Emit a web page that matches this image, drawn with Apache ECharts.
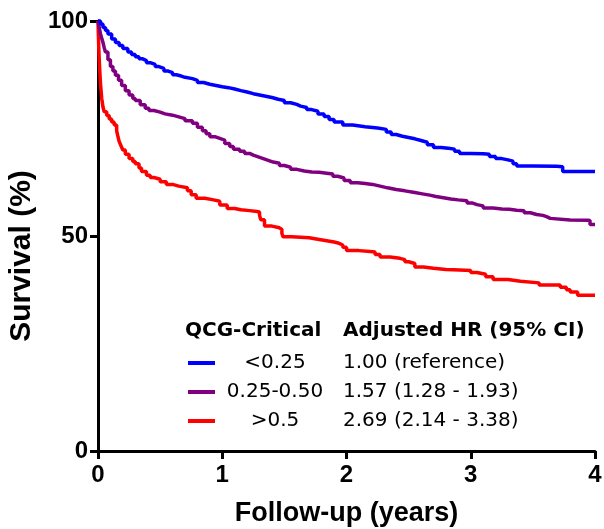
<!DOCTYPE html>
<html lang="en">
<head>
<meta charset="utf-8">
<title>Survival by QCG-Critical</title>
<script src="https://cdn.jsdelivr.net/npm/echarts@6/dist/echarts.min.js"></script>
<style>
  html, body { margin: 0; padding: 0; background: #fff; }
  #chart { width: 604px; height: 529px; }
</style>
</head>
<body>
<div id="chart"></div>
<script>
// Kaplan-Meier curves, [years, survival %]
var groupNames = ['<0.25', '0.25-0.50', '>0.5'];
var hrTexts = ['1.00 (reference)', '1.57 (1.28 - 1.93)', '2.69 (2.14 - 3.38)'];
var colors = ['#0000ff', '#800080', '#ff0000'];

var lowData = [
  [0,100],[0.02,99.3],[0.04,98.5],[0.06,97.8],[0.08,97],[0.11,95.8],[0.14,95],[0.17,94.3],
  [0.2,93.6],[0.24,92.8],[0.27,92.2],[0.3,91.7],[0.33,91.2],[0.36,90.8],[0.39,90.3],[0.42,89.9],
  [0.46,89.4],[0.49,89],[0.53,88.4],[0.56,88],[0.6,87.5],[0.63,87.2],[0.67,86.9],[0.7,86.6],
  [0.76,86.2],[0.8,85.7],[0.85,85.3],[0.9,85],[0.95,84.7],[1.0,84.5],[1.05,84.2],[1.1,83.8],
  [1.15,83.5],[1.2,83.1],[1.25,82.8],[1.3,82.5],[1.35,82.2],[1.4,81.8],[1.45,81.5],[1.5,81],
  [1.55,80.6],[1.6,80.2],[1.63,79.9],[1.68,79.4],[1.72,79.0],[1.77,78.4],[1.82,77.8],[1.86,77.1],
  [1.9,76.5],[1.97,75.8],[2.05,75.4],[2.15,75.1],[2.25,74.8],[2.32,74.2],[2.36,73.6],[2.4,73.2],
  [2.45,72.9],[2.5,72.6],[2.55,72.2],[2.6,71.8],[2.65,71.2],[2.7,70.6],[2.76,70.4],[2.82,70.2],
  [2.87,69.7],[2.91,69.2],[3.0,69.1],[3.1,69.0],[3.15,68.5],[3.2,68.0],[3.25,67.7],[3.3,67.4],
  [3.34,66.8],[3.37,66.3],[3.5,66.2],[3.69,66.1],[3.74,65.0],[4.0,65.0]
];
var midData = [
  [0,100],[0.01,98.5],[0.02,97],[0.03,96],[0.04,95],[0.05,93.8],[0.06,92.8],[0.08,91],
  [0.1,89.4],[0.12,88.4],[0.14,87.4],[0.165,86.2],[0.19,85],[0.22,83.8],[0.25,82.8],[0.28,82],
  [0.3,81.5],[0.34,80.5],[0.38,79.7],[0.41,79.2],[0.45,78.8],[0.5,78.4],[0.54,78.1],[0.6,77.7],
  [0.65,77.3],[0.7,76.8],[0.76,76.2],[0.8,75.3],[0.84,74.5],[0.87,73.8],[0.9,73.1],[0.94,72.7],
  [0.98,72.3],[1.02,71.5],[1.06,70.8],[1.09,70.2],[1.14,69.7],[1.18,69.2],[1.22,68.8],[1.25,68.4],
  [1.29,68],[1.33,67.6],[1.37,67.2],[1.41,66.9],[1.46,66.4],[1.5,66.0],[1.55,65.5],[1.6,65.1],
  [1.66,64.9],[1.72,64.8],[1.78,64.6],[1.84,64.4],[1.89,63.9],[1.93,63.5],[1.98,62.9],[2.03,62.4],
  [2.09,62.2],[2.15,62.0],[2.21,61.6],[2.27,61.2],[2.33,60.8],[2.4,60.5],[2.47,60.1],[2.55,59.8],
  [2.61,59.5],[2.67,59.2],[2.72,58.9],[2.78,58.6],[2.84,58.4],[2.9,58.2],[2.97,57.7],[3.01,57.3],
  [3.05,57.0],[3.1,56.5],[3.18,56.3],[3.25,56.2],[3.31,56.0],[3.37,55.9],[3.43,55.4],[3.48,55.0],
  [3.53,54.8],[3.58,54.5],[3.61,54.1],[3.64,53.7],[3.8,53.65],[3.94,53.6],[3.96,52.7],[4.0,52.7]
];
var highData = [
  [0,100],[0.003,97],[0.006,94],[0.01,91],[0.015,88],[0.02,85.5],[0.03,82],[0.04,80],
  [0.05,78.9],[0.07,78],[0.09,77.2],[0.11,76.5],[0.13,75.8],[0.15,74.5],[0.16,73.2],[0.17,72],
  [0.185,71],[0.2,70],[0.22,69],[0.25,68],[0.28,67.3],[0.3,66.8],[0.33,65.8],[0.35,65],
  [0.39,64.1],[0.42,63.6],[0.45,63.2],[0.5,62.6],[0.55,62.0],[0.6,61.6],[0.65,61.2],[0.72,60.5],
  [0.75,59.6],[0.79,58.8],[0.86,58.4],[0.93,58.1],[0.98,57.2],[1.04,56.4],[1.1,56.1],[1.15,55.9],
  [1.22,55.7],[1.28,55.6],[1.3,54.8],[1.31,53.8],[1.34,52.3],[1.4,51.9],[1.46,51.5],[1.48,50.6],
  [1.49,49.8],[1.56,49.7],[1.63,49.6],[1.7,49.2],[1.78,48.9],[1.84,48.6],[1.9,48.3],[1.94,47.9],
  [1.97,47.4],[2.0,46.6],[2.1,46.4],[2.19,46.3],[2.23,45.7],[2.27,45.1],[2.35,44.8],[2.43,44.5],
  [2.47,44.0],[2.5,43.6],[2.55,42.8],[2.62,42.5],[2.7,42.2],[2.8,42.1],[2.91,42.0],[3.0,41.5],
  [3.05,41.1],[3.12,40.5],[3.18,39.9],[3.3,39.5],[3.4,39.1],[3.55,38.6],[3.72,38.1],[3.77,37.5],
  [3.8,37.0],[3.86,36.2],[4.0,36.2]
];
var seriesData = [lowData, midData, highData];

var chart = echarts.init(document.getElementById('chart'));
var boldFont = 'Liberation Sans, Arial, sans-serif';
var legendFont = 'DejaVu Sans, Verdana, sans-serif';

// legend table drawn as graphic text
var legendGraphics = [
  { type: 'text', left: 185, top: 321, style: { text: 'QCG-Critical', font: 'bold 20px ' + legendFont, fill: '#000' } },
  { type: 'text', left: 343, top: 321, style: { text: 'Adjusted HR (95% CI)', font: 'bold 20px ' + legendFont, fill: '#000' } }
];
var rowY = [363, 392, 421];
for (var i = 0; i < groupNames.length; i++) {
  legendGraphics.push({ type: 'line', shape: { x1: 188, y1: rowY[i], x2: 215, y2: rowY[i] },
    style: { stroke: colors[i], lineWidth: 4 } });
  legendGraphics.push({ type: 'text', x: 275, y: rowY[i], style: { text: groupNames[i], font: '20px ' + legendFont,
    fill: '#000', align: 'center', verticalAlign: 'middle' } });
  legendGraphics.push({ type: 'text', x: 343, y: rowY[i], style: { text: hrTexts[i], font: '20px ' + legendFont,
    fill: '#000', align: 'left', verticalAlign: 'middle' } });
}

var option = {
  animation: false,
  grid: { left: 98, right: 9, top: 21, bottom: 78, outerBoundsMode: 'none', containLabel: false },
  xAxis: {
    type: 'value', min: 0, max: 4, interval: 1,
    name: 'Follow-up (years)', nameLocation: 'middle', nameGap: 49,
    nameTextStyle: { fontFamily: boldFont, fontWeight: 'bold', fontSize: 27, color: '#000' },
    axisLine: { show: true, lineStyle: { color: '#000', width: 3 } },
    axisTick: { show: true, length: 8, lineStyle: { color: '#000', width: 3 } },
    axisLabel: { margin: 12, fontFamily: boldFont, fontWeight: 'bold', fontSize: 24, color: '#000' },
    splitLine: { show: false }
  },
  yAxis: {
    type: 'value', min: 0, max: 100, interval: 50,
    name: 'Survival (%)', nameLocation: 'middle', nameGap: 46, nameRotate: 90,
    nameTextStyle: { fontFamily: boldFont, fontWeight: 'bold', fontSize: 30, color: '#000', padding: [0, 40, 0, 0] },
    axisLine: { show: true, lineStyle: { color: '#000', width: 3 } },
    axisTick: { show: true, length: 8, lineStyle: { color: '#000', width: 3 } },
    axisLabel: { margin: 10, fontFamily: boldFont, fontWeight: 'bold', fontSize: 24, color: '#000' },
    splitLine: { show: false }
  },
  series: seriesData.map(function (d, k) {
    return {
      name: groupNames[k], type: 'line', step: 'end', data: d,
      showSymbol: false, symbol: 'none', clip: false,
      lineStyle: { color: colors[k], width: 3.5 }, z: 3 - k
    };
  }),
  graphic: legendGraphics
};
chart.setOption(option);
</script>
</body>
</html>
